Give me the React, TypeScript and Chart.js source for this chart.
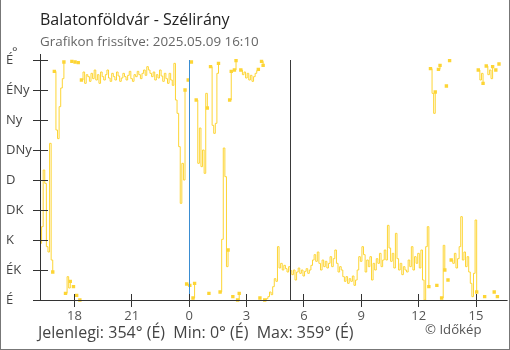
import React, { useEffect, useRef } from 'react';
import { Chart, registerables } from 'chart.js';

Chart.register(...registerables);

const chartTitle = 'Balatonföldvár - Szélirány';
const chartSubtitle = 'Grafikon frissítve: 2025.05.09 16:10';
const footerText = 'Jelenlegi: 354° (É)  Min: 0° (É)  Max: 359° (É)';
const creditText = '© Időkép';
const unitLabel = '°';

const yTickLabels = ['É', 'ÉK', 'K', 'DK', 'D', 'DNy', 'Ny', 'ÉNy', 'É'];
const yTickStep = 45;
const yMin = 0;
const yMax = 360;

const xTickHours = [18, 21, 0, 3, 6, 9, 12, 15];
const xRangeStart = '16:12';
const xRangeEnd = '16:39';
const midnightMarker = '00:00';
const sunriseMarker = '05:18';

const sampleTimes = [
  '16:12', '16:17', '16:22', '16:27', '16:32', '16:37', '16:42', '16:47', '16:52', '16:57',
  '17:02', '17:07', '17:12', '17:17', '17:22', '17:27', '17:32', '17:37', '17:42', '17:47', '17:52', '17:57',
  '18:02', '18:07', '18:12', '18:17', '18:22', '18:27', '18:32', '18:37', '18:42', '18:47', '18:52', '18:57',
  '19:02', '19:07', '19:12', '19:17', '19:22', '19:27', '19:32', '19:37', '19:42', '19:47', '19:52', '19:57',
  '20:02', '20:07', '20:12', '20:17', '20:22', '20:27', '20:32', '20:37', '20:42', '20:47', '20:52', '20:57',
  '21:02', '21:07', '21:12', '21:17', '21:22', '21:27', '21:32', '21:37', '21:42', '21:47', '21:52', '21:57',
  '22:02', '22:07', '22:12', '22:17', '22:22', '22:27', '22:32', '22:37', '22:42', '22:47', '22:52', '22:57',
  '23:02', '23:07', '23:12', '23:17', '23:22', '23:27', '23:32', '23:37', '23:42', '23:47', '23:52', '23:57',
  '00:02', '00:07', '00:12', '00:17', '00:22', '00:27', '00:32', '00:37', '00:42', '00:47', '00:52', '00:57',
  '01:02', '01:07', '01:12', '01:17', '01:22', '01:27', '01:32', '01:37', '01:42', '01:47', '01:52', '01:57',
  '02:02', '02:07', '02:12', '02:17', '02:22', '02:27', '02:32', '02:37', '02:42', '02:47', '02:52', '02:57',
  '03:02', '03:07', '03:12', '03:17', '03:22', '03:27', '03:32', '03:37', '03:42', '03:47', '03:52', '03:57',
  '04:02', '04:07', '04:12', '04:17', '04:22', '04:27', '04:32', '04:37', '04:42', '04:47', '04:52', '04:57',
  '05:02', '05:07', '05:12', '05:17', '05:22', '05:27', '05:32', '05:37', '05:42', '05:47', '05:52', '05:57',
  '06:02', '06:07', '06:12', '06:17', '06:22', '06:27', '06:32', '06:37', '06:42', '06:47', '06:52', '06:57',
  '07:02', '07:07', '07:12', '07:17', '07:22', '07:27', '07:32', '07:37', '07:42', '07:47', '07:52', '07:57',
  '08:02', '08:07', '08:12', '08:17', '08:22', '08:27', '08:32', '08:37', '08:42', '08:47', '08:52', '08:57',
  '09:02', '09:07', '09:12', '09:17', '09:22', '09:27', '09:32', '09:37', '09:42', '09:47', '09:52', '09:57',
  '10:02', '10:07', '10:12', '10:17', '10:22', '10:27', '10:32', '10:37', '10:42', '10:47', '10:52', '10:57',
  '11:02', '11:07', '11:12', '11:17', '11:22', '11:27', '11:32', '11:37', '11:42', '11:47', '11:52', '11:57',
  '12:02', '12:07', '12:12', '12:17', '12:22', '12:27', '12:32', '12:37', '12:42', '12:47', '12:52', '12:57',
  '13:02', '13:07', '13:12', '13:17', '13:22', '13:27', '13:32', '13:37', '13:42', '13:47', '13:52', '13:57',
  '14:02', '14:07', '14:12', '14:17', '14:22', '14:27', '14:32', '14:37', '14:42', '14:47', '14:52', '14:57',
  '15:02', '15:07', '15:12', '15:17', '15:22', '15:27', '15:32', '15:37', '15:42', '15:47', '15:52', '15:57',
  '16:02', '16:07', '16:12',
];

const windDirection: (number | null)[] = [
  85, 110, 195, 175, 80, 72, 235, 60, 42, 343,
  255, 242, 290, 318, 332, 357, 10, 35, 18, 28,
  358, 20, 357, 7, 356, 0, 330, 342, 325, 338,
  335, 328, 340, 332, 345, 330, 338, 325, 342, 335,
  330, 338, 345, 333, 328, 340, 335, 330, 342, 336,
  328, 333, 340, 335, 330, 337, 343, 332, 328, 338,
  335, 343, 338, 332, 340, 345, 337, 350, 345, 340,
  335, 342, 330, 338, 333, 345, 336, 328, 340, 332,
  325, 340, 330, 322, 355, 300, 280, 230, 145, 205,
  180, 315, 24, 330, 22, 357, 3, 25, 300, 205,
  258, 200, 225, 190, 310, 288, 10, 350, 262, 250,
  265, 340, 355, 12, 91, 228, 185, 50, 75, 300,
  343, 5, 345, 359, 0, 10, 345, 338, 342, 333,
  340, 330, 337, 328, 335, 340, 344, 346, 3, 358,
  352, 0, 2, 5, 12, 8, 20, 32, 28, 80,
  48, 55, 45, 52, 47, 42, 50, 44, 38, 45,
  30, 42, 48, 40, 45, 36, 43, 47, 40, 45,
  52, 60, 68, 58, 72, 55, 45, 60, 50, 58,
  48, 55, 65, 50, 62, 75, 55, 42, 50, 45,
  35, 28, 35, 25, 32, 28, 36, 22, 30, 45,
  65, 58, 80, 68, 42, 60, 50, 65, 30, 55,
  45, 62, 55, 70, 50, 60, 75, 60, 112, 78,
  58, 70, 48, 100, 62, 45, 55, 38, 50, 45,
  42, 60, 50, 80, 45, 65, 55, 70, 48, 75,
  30, 0, 80, 110, 20, 347, 310, 280, 312, 22,
  346, 352, 3, 82, 45, 321, 30, 359, 60, 55,
  70, 48, 62, 80, 125, 60, 72, 50, 65, 42,
  25, 5, 40, 120, 12, 345, 330, 340, 325, 5,
  351, 338, 345, 332, 350, 12, 345, 5, 354,
];

const lineColor = '#fdd535';
const axisColor = '#333333';
const midnightColor = '#3a8dd2';
const sunriseColor = '#3a3a3a';
const fontFamily = "'Open Sans', 'Noto Sans', sans-serif";

function clockToHours(t: string): number {
  const [hh, mm] = t.split(':').map(Number);
  return hh + mm / 60;
}

// hours relative to the midnight inside the window (previous day negative)
function toAxisHours(t: string): number {
  const h = clockToHours(t);
  return h >= 16 ? h - 24 : h;
}

function buildPoints() {
  const pts: { x: number; y: number | null }[] = [];
  let dayOffset = -24;
  let prevH = -1;
  let prevY: number | null = null;
  sampleTimes.forEach((t, i) => {
    const h = clockToHours(t);
    if (prevH >= 0 && h < prevH) dayOffset += 24;
    prevH = h;
    const x = h + dayOffset;
    const y = windDirection[i];
    if (y != null && prevY != null && Math.abs(y - prevY) > 180) {
      const lastX = pts[pts.length - 1].x;
      pts.push({ x: (lastX + x) / 2, y: null });
    }
    pts.push({ x, y });
    prevY = y;
  });
  return pts;
}

export default function App() {
  const canvasRef = useRef<HTMLCanvasElement>(null);

  useEffect(() => {
    const canvas = canvasRef.current;
    if (!canvas) return;
    const points = buildPoints();
    const markers = points.map((p, i) => {
      if (p.y == null) return false;
      const prevBreak = i > 0 && points[i - 1].y == null;
      const nextBreak = i < points.length - 1 && points[i + 1].y == null;
      return prevBreak || nextBreak;
    });
    const xTickValues = xTickHours.map((h) => (h >= 16 ? h - 24 : h));

    const overlayPlugin = {
      id: 'overlayLines',
      afterDatasetsDraw(chart: any) {
        const { ctx, chartArea: a, scales } = chart;
        const x = scales.x;
        ctx.save();
        ctx.lineWidth = 1;
        const mx = Math.floor(x.getPixelForValue(toAxisHours(midnightMarker))) + 0.5;
        ctx.strokeStyle = midnightColor;
        ctx.beginPath();
        ctx.moveTo(mx, a.top);
        ctx.lineTo(mx, a.bottom);
        ctx.stroke();
        const sx = Math.floor(x.getPixelForValue(toAxisHours(sunriseMarker))) + 0.5;
        ctx.strokeStyle = sunriseColor;
        ctx.beginPath();
        ctx.moveTo(sx, a.top);
        ctx.lineTo(sx, a.bottom);
        ctx.stroke();
        ctx.restore();
      },
      afterDraw(chart: any) {
        const { ctx, chartArea: a, scales } = chart;
        const x = scales.x;
        const y = scales.y;
        ctx.save();
        ctx.strokeStyle = axisColor;
        ctx.lineWidth = 1;
        const ax = a.left + 0.5;
        const ay = a.bottom + 0.5;
        ctx.beginPath();
        ctx.moveTo(ax, a.top - 6);
        ctx.lineTo(ax, ay);
        ctx.moveTo(a.left - 7, ay);
        ctx.lineTo(a.right, ay);
        for (let v = yMin; v <= yMax; v += yTickStep) {
          const py = Math.round(y.getPixelForValue(v)) + 0.5;
          ctx.moveTo(a.left - 7, py);
          ctx.lineTo(a.left + 8, py);
        }
        xTickValues.forEach((v) => {
          const px = Math.floor(x.getPixelForValue(v)) + 0.5;
          ctx.moveTo(px, a.bottom - 6);
          ctx.lineTo(px, a.bottom + 7);
        });
        ctx.stroke();
        ctx.restore();
      },
    };

    const chart = new Chart(canvas, {
      type: 'line',
      data: {
        datasets: [
          {
            data: points as any,
            borderColor: lineColor,
            backgroundColor: lineColor,
            borderWidth: 1,
            stepped: true,
            spanGaps: false,
            pointStyle: 'rect',
            pointRadius: (c: any) => (markers[c.dataIndex] ? 2.4 : 0),
            pointBorderWidth: 0,
            pointHoverRadius: 0,
            clip: 5,
          } as any,
        ],
      },
      options: {
        responsive: false,
        animation: false,
        devicePixelRatio: 1,
        events: [],
        layout: { padding: { left: 6, top: 60, right: 1, bottom: 0 } },
        plugins: {
          legend: { display: false },
          tooltip: { enabled: false },
        },
        scales: {
          x: {
            type: 'linear',
            min: toAxisHours(xRangeStart),
            max: toAxisHours(xRangeEnd) + 24,
            grid: { display: false, drawTicks: false },
            border: { display: false },
            afterFit: (s: any) => {
              s.height = 50;
            },
            afterBuildTicks: (s: any) => {
              s.ticks = xTickValues.map((v) => ({ value: v }));
            },
            ticks: {
              autoSkip: false,
              maxRotation: 0,
              padding: 8,
              color: '#555',
              font: { family: fontFamily, size: 13 },
              callback: (v: any) => String((Number(v) + 24) % 24),
            },
          },
          y: {
            type: 'linear',
            min: yMin,
            max: yMax,
            grid: { display: false, drawTicks: false },
            border: { display: false },
            afterFit: (s: any) => {
              s.width = 34;
            },
            ticks: {
              stepSize: yTickStep,
              crossAlign: 'far',
              color: '#444',
              font: { family: fontFamily, size: 13 },
              callback: (v: any) => yTickLabels[Math.round(Number(v) / yTickStep)] ?? '',
            },
          },
        },
      } as any,
      plugins: [overlayPlugin],
    });

    return () => {
      chart.destroy();
    };
  }, []);

  const textBase: React.CSSProperties = {
    position: 'absolute',
    whiteSpace: 'pre',
    fontFamily,
    margin: 0,
  };

  return (
    <div
      style={{
        position: 'fixed',
        left: 0,
        top: 0,
        width: 510,
        height: 350,
        background: '#fff',
        overflow: 'hidden',
      }}
    >
      <canvas
        ref={canvasRef}
        width={510}
        height={350}
        style={{ position: 'absolute', left: 0, top: 0, width: 510, height: 350 }}
      />
      <div style={{ ...textBase, left: 40, top: 11, fontSize: 16, lineHeight: '16px', color: '#222' }}>
        {chartTitle}
      </div>
      <div style={{ ...textBase, left: 40, top: 34.6, fontSize: 13.4, lineHeight: '13.4px', color: '#666' }}>
        {chartSubtitle}
      </div>
      <div style={{ ...textBase, left: 12, top: 44.5, fontSize: 13, lineHeight: '13px', color: '#444' }}>
        {unitLabel}
      </div>
      <div style={{ ...textBase, left: 38, top: 324, fontSize: 16, lineHeight: '16px', color: '#444' }}>
        {footerText}
      </div>
      <div style={{ ...textBase, left: 425, top: 323.3, fontSize: 13.2, lineHeight: '13.2px', color: '#555' }}>
        {creditText}
      </div>
      <div
        style={{
          position: 'absolute',
          left: 0,
          top: 0,
          width: 510,
          height: 350,
          boxSizing: 'border-box',
          borderLeft: '1px solid #777',
          borderRight: '1px solid #777',
          borderBottom: '1px solid #777',
          pointerEvents: 'none',
        }}
      />
    </div>
  );
}
